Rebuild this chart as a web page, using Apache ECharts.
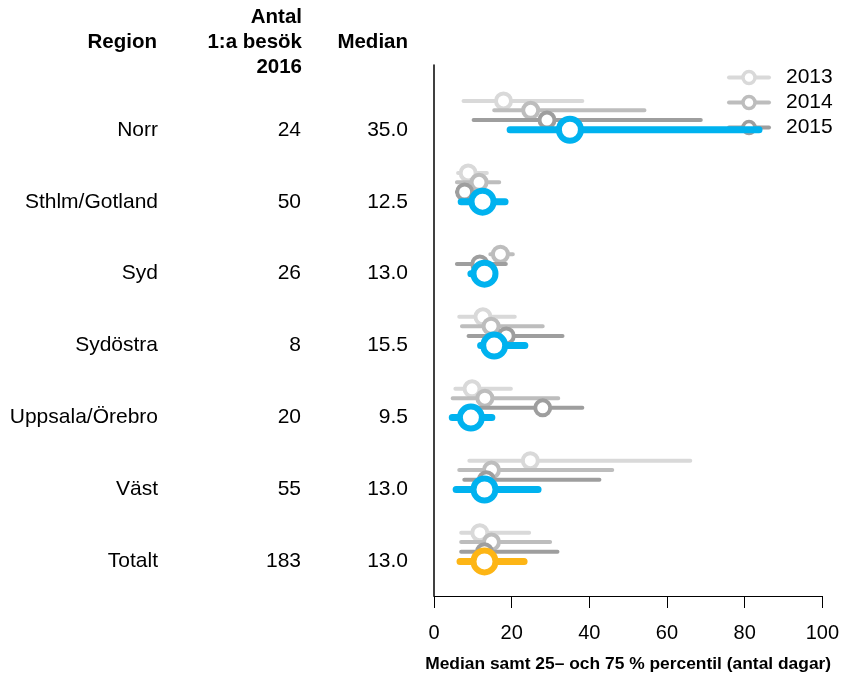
<!DOCTYPE html>
<html>
<head>
<meta charset="UTF-8">
<title>Median antal dagar per region</title>
<script src="https://cdn.jsdelivr.net/npm/echarts@6/dist/echarts.min.js"></script>
<style>
  html, body { margin: 0; padding: 0; background: #fff; }
  #main { width: 842px; height: 679px; }
</style>
</head>
<body>
<div id="main"></div>
<script>
// tabell
var regions = ['Norr', 'Sthlm/Gotland', 'Syd', 'Sydöstra', 'Uppsala/Örebro', 'Väst', 'Totalt'];
var antal2016 = [24, 50, 26, 8, 20, 55, 183];
var median2016 = [35.0, 12.5, 13.0, 15.5, 9.5, 13.0, 13.0];
var xTicks = [0, 20, 40, 60, 80, 100];

// [25 %, median, 75 %] per region (null = saknas)
var y2013 = [[7.6, 17.9, 38.2], [6.2, 8.8, 13.6], null, [6.5, 12.6, 20.8], [5.5, 9.8, 19.8], [9.1, 24.8, 66.0], [7.0, 11.8, 24.5]];
var y2014 = [[15.5, 24.9, 54.2], [5.9, 11.6, 16.8], [14.5, 17.1, 20.3], [7.2, 14.7, 28.0], [4.8, 13.1, 32.0], [6.5, 14.8, 45.9], [7.0, 14.8, 29.9]];
var y2015 = [[10.2, 29.1, 68.7], [5.9, 7.9, 11.0], [5.9, 11.8, 18.5], [8.9, 18.6, 33.1], [8.0, 28.0, 38.2], [7.8, 13.5, 42.6], [7.0, 13.0, 31.8]];
var y2016 = [[19.6, 35.0, 83.7], [7.0, 12.5, 18.3], [9.5, 13.0, 15.0], [12.0, 15.5, 23.4], [4.7, 9.5, 14.9], [5.7, 13.0, 26.8], [6.7, 13.0, 23.2]];

var FONT = '"Liberation Sans", Arial, Helvetica, sans-serif';
var n = regions.length;

var years = [
  { name: '2013', vals: y2013, off: 0.40, color: '#d9d9d9', lw: 4, size: 15, bw: 4 },
  { name: '2014', vals: y2014, off: 0.27, color: '#bdbdbd', lw: 4, size: 15, bw: 4 },
  { name: '2015', vals: y2015, off: 0.135, color: '#9e9e9e', lw: 4, size: 15, bw: 4 },
  { name: '2016', vals: y2016, off: 0, color: '#00b2ef', lw: 7, size: 22, bw: 6 }
];

var series = [];
years.forEach(function (yr, k) {
  yr.vals.forEach(function (v, i) {
    if (!v) return;
    var yv = n - i + yr.off;
    var col = yr.color;
    var nm = yr.name;
    if (yr.name === '2016' && regions[i] === 'Totalt') {
      col = '#fdb515';
      nm = 'Totalt 2016';
    }
    series.push({
      type: 'line',
      name: nm,
      z: 2 + k,
      symbol: 'circle',
      symbolSize: yr.size,
      lineStyle: { color: col, width: yr.lw, cap: 'round' },
      itemStyle: { color: '#fff', borderColor: col, borderWidth: yr.bw },
      emphasis: { disabled: true },
      silent: true,
      data: [
        { value: [v[0], yv], symbol: 'none' },
        [v[1], yv],
        { value: [v[2], yv], symbol: 'none' }
      ]
    });
  });
});

var chart = echarts.init(document.getElementById('main'));
chart.setOption({
  animation: false,
  backgroundColor: '#fff',
  textStyle: { fontFamily: FONT },
  grid: { left: 434, right: 18, top: 65, bottom: 83 },
  legend: {
    data: ['2013', '2014', '2015'],
    orient: 'vertical',
    left: 727,
    top: 67,
    padding: 0,
    itemWidth: 40,
    itemHeight: 15,
    itemGap: 4,
    selectedMode: false,
    lineStyle: { width: 4 },
    itemStyle: { borderWidth: 3.5 },
    textStyle: { fontSize: 21, color: '#000', fontFamily: FONT, padding: [0, 0, 0, 12] }
  },
  xAxis: {
    type: 'value',
    min: 0,
    max: 100,
    interval: 20,
    name: 'Median samt 25– och 75 % percentil (antal dagar)',
    nameLocation: 'middle',
    nameGap: 60,
    nameTextStyle: { fontSize: 17.4, fontWeight: 'bold', color: '#000', fontFamily: FONT },
    axisLine: { show: true, lineStyle: { color: '#000', width: 1 } },
    axisTick: { show: true, length: 12, lineStyle: { color: '#000' } },
    axisLabel: {
      margin: 27, fontSize: 20, color: '#000', fontFamily: FONT,
      customValues: xTicks
    },
    splitLine: { show: false }
  },
  yAxis: {
    type: 'value',
    min: 0.52,
    max: 7.9,
    axisLine: { show: true, lineStyle: { color: '#000', width: 1.5 } },
    axisTick: { show: false },
    splitLine: { show: false },
    axisLabel: {
      margin: 26,
      customValues: regions.map(function (r, i) { return n - i; }),
      formatter: function (val) {
        var i = Math.round(n - val);
        return '{r|' + regions[i] + '}{c|' + antal2016[i] + '}{m|' + median2016[i].toFixed(1) + '}';
      },
      rich: {
        r: { width: 150, align: 'right', fontSize: 21, color: '#000', fontFamily: FONT },
        c: { width: 143, align: 'right', fontSize: 21, color: '#000', fontFamily: FONT },
        m: { width: 107, align: 'right', fontSize: 21, color: '#000', fontFamily: FONT }
      }
    }
  },
  graphic: [
    { type: 'text', style: { x: 157, y: 42, text: 'Region', align: 'right', verticalAlign: 'middle', fontSize: 20.5, fontWeight: 'bold', fontFamily: FONT, fill: '#000' } },
    { type: 'text', style: { x: 302, y: 42, text: 'Antal\n1:a besök\n2016', align: 'right', verticalAlign: 'middle', lineHeight: 25, fontSize: 20.5, fontWeight: 'bold', fontFamily: FONT, fill: '#000' } },
    { type: 'text', style: { x: 408, y: 42, text: 'Median', align: 'right', verticalAlign: 'middle', fontSize: 20.5, fontWeight: 'bold', fontFamily: FONT, fill: '#000' } }
  ],
  series: series
});
</script>
</body>
</html>
